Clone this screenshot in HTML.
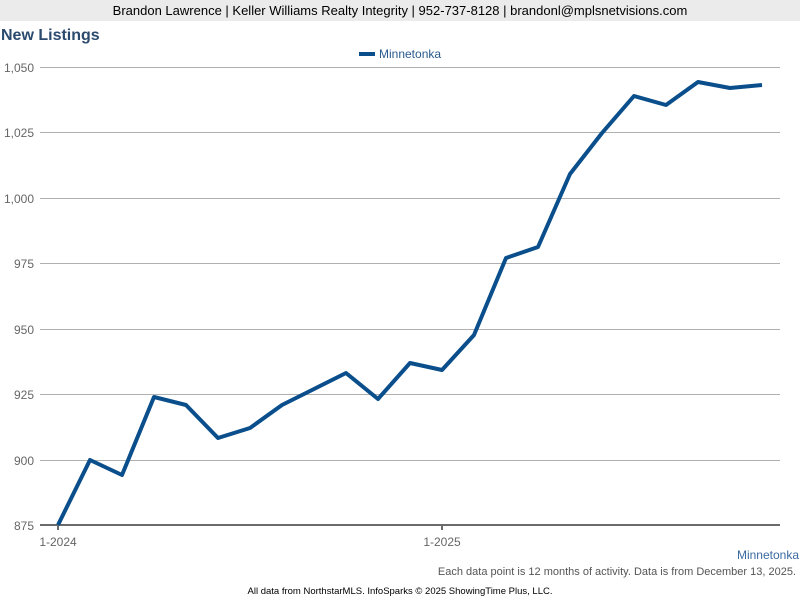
<!DOCTYPE html>
<html><head><style>
body{margin:0;width:800px;height:600px;overflow:hidden;background:#fff;font-family:"Liberation Sans",Arial,sans-serif;}
</style></head><body>
<svg width="800" height="600" xmlns="http://www.w3.org/2000/svg" font-family="Liberation Sans, Arial, sans-serif">
<rect x="0" y="0" width="800" height="21" fill="#ebebeb"/>
<text x="400" y="15" font-size="13" text-anchor="middle" fill="#000">Brandon Lawrence | Keller Williams Realty Integrity | 952-737-8128 | brandonl@mplsnetvisions.com</text>
<text x="1" y="40" font-size="16" font-weight="bold" fill="#2a4a6e">New Listings</text>
<rect x="359" y="52" width="16" height="4" fill="#0a4f8c"/>
<text x="379" y="58" font-size="12" fill="#2a5a8e">Minnetonka</text>
<g stroke="#b0b0b0" stroke-width="1">
<line x1="40" x2="780" y1="67.5" y2="67.5"/>
<line x1="40" x2="780" y1="132.5" y2="132.5"/>
<line x1="40" x2="780" y1="198.5" y2="198.5"/>
<line x1="40" x2="780" y1="263.5" y2="263.5"/>
<line x1="40" x2="780" y1="329.5" y2="329.5"/>
<line x1="40" x2="780" y1="394.5" y2="394.5"/>
<line x1="40" x2="780" y1="460.5" y2="460.5"/>
</g>
<line x1="40" x2="780" y1="525" y2="525" stroke="#6b6b6b" stroke-width="2"/>
<line x1="58" x2="58" y1="525" y2="530" stroke="#6b6b6b" stroke-width="2"/>
<line x1="442" x2="442" y1="525" y2="530" stroke="#6b6b6b" stroke-width="2"/>
<g font-size="12" fill="#666" text-anchor="end">
<text x="34" y="72">1,050</text>
<text x="34" y="137">1,025</text>
<text x="34" y="203">1,000</text>
<text x="34" y="268">975</text>
<text x="34" y="334">950</text>
<text x="34" y="399">925</text>
<text x="34" y="465">900</text>
<text x="34" y="530">875</text>
</g>
<g font-size="12" fill="#666" text-anchor="middle">
<text x="58" y="546">1-2024</text>
<text x="442" y="546">1-2025</text>
</g>
<polyline fill="none" stroke="#0a4f8c" stroke-width="4" stroke-linejoin="round" points="58,525 90,460 122,475 154,397 186,405 218,438 250,428 282,405 314,389 346,373 378,399 410,363 442,370 474,335 506,258 538,247 570,174 602,133 634,96 666,105 698,82 730,88 762,85"/>
<text x="799" y="559" font-size="12" fill="#3a6aa0" text-anchor="end">Minnetonka</text>
<text x="796" y="575" font-size="11" fill="#555" text-anchor="end">Each data point is 12 months of activity. Data is from December 13, 2025.</text>
<text x="400" y="594" font-size="9.5" fill="#000" text-anchor="middle">All data from NorthstarMLS. InfoSparks © 2025 ShowingTime Plus, LLC.</text>
</svg>
</body></html>
